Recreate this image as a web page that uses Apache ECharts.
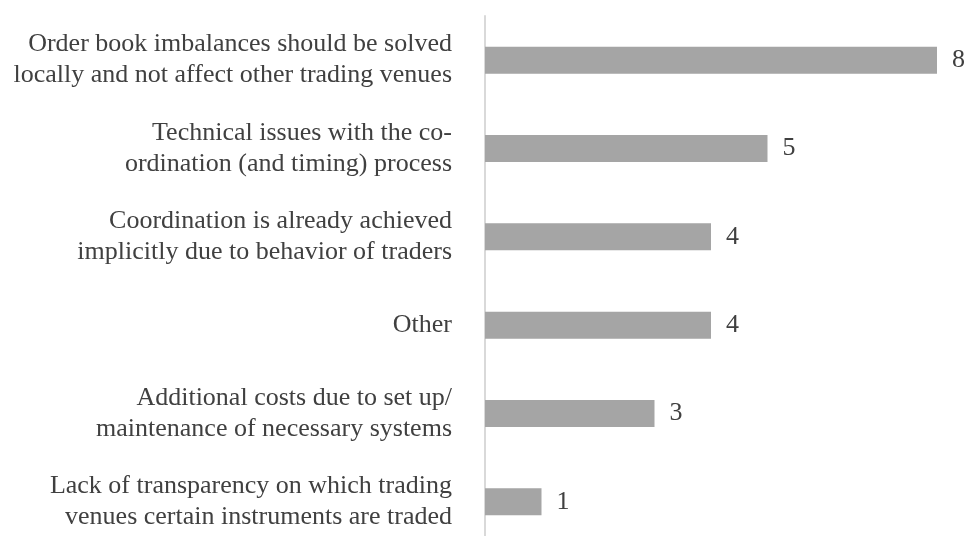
<!DOCTYPE html>
<html>
<head>
<meta charset="utf-8">
<script src="https://cdn.jsdelivr.net/npm/echarts@6/dist/echarts.min.js"></script>
<style>
  html, body { margin: 0; padding: 0; background: #fff; }
  #chart { width: 968px; height: 536px; }
</style>
</head>
<body>
<div id="chart"></div>
<script>
// categories listed bottom to top (category axis on y starts at the bottom)
const categories = [
    "Lack of transparency on which trading\nvenues certain instruments are traded",
    "Additional costs due to set up/\nmaintenance of necessary systems",
    "Other",
    "Coordination is already achieved\nimplicitly due to behavior of traders",
    "Technical issues with the co-\nordination (and timing) process",
    "Order book imbalances should be solved\nlocally and not affect other trading venues"
];
const counts = [1, 3, 4, 4, 5, 8];

const textColor = '#404040';
const font = 'Liberation Serif';

const chart = echarts.init(document.getElementById('chart'));

chart.setOption({
    animation: false,
    grid: {
        left: 485,
        top: 16,
        width: 452,
        height: 530,
        outerBoundsMode: 'none'
    },
    xAxis: {
        type: 'value',
        min: 0,
        max: 8,
        show: false
    },
    yAxis: {
        type: 'category',
        data: categories,
        axisLine: { show: true, lineStyle: { color: '#D9D9D9', width: 2 } },
        axisTick: { show: false },
        axisLabel: {
            margin: 33,
            color: textColor,
            fontFamily: font,
            fontSize: 26,
            lineHeight: 31,
            align: 'right'
        }
    },
    series: [{
        type: 'bar',
        data: counts,
        barWidth: 27,
        itemStyle: { color: '#A5A5A5' },
        label: {
            show: true,
            position: 'right',
            distance: 15,
            color: textColor,
            fontFamily: font,
            fontSize: 26
        }
    }]
});
</script>
</body>
</html>
